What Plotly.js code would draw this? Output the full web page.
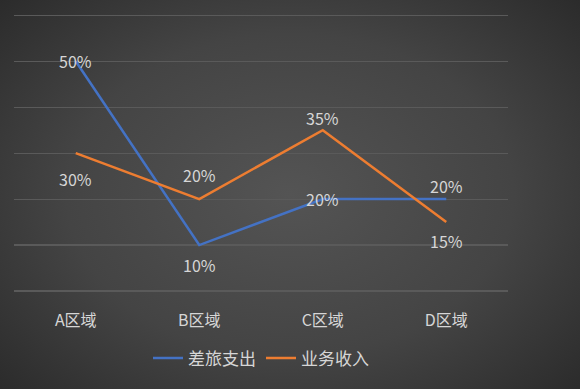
<!DOCTYPE html>
<html><head><meta charset="utf-8">
<script src="https://cdn.plot.ly/plotly-3.0.1.min.js"></script>
<style>
html,body{margin:0;padding:0;}
body{width:580px;height:389px;overflow:hidden;background:radial-gradient(ellipse 70% 75% at 50% 50%, #545454 0%, #444444 55%, #2a2a2a 100%);}
#chart{width:580px;height:389px;}
</style></head>
<body><div id="chart"></div>
<script>
const categories = ['A区域','B区域','C区域','D区域'];
const seriesNames = ['差旅支出','业务收入'];
const travelExpense = [0.50, 0.10, 0.20, 0.20];
const businessIncome = [0.30, 0.20, 0.35, 0.15];

const colors = ['#4472C4','#ED7D31'];
const font = 'Noto Sans CJK SC, Noto Sans, sans-serif';
const labelShift = [[0, -20, 0, 13], [-26, 24, 12, -19]];

const series = [travelExpense, businessIncome];
const traces = series.map((vals, i) => ({
  type: 'scatter', mode: 'lines', x: categories, y: vals, name: seriesNames[i],
  line: {color: colors[i], width: 2.5}, hoverinfo: 'skip'
}));
const annotations = [];
series.forEach((vals, i) => vals.forEach((v, j) => {
  annotations.push({x: categories[j], y: v, xref: 'x', yref: 'y', text: Math.round(v*100) + '%',
    showarrow: false, yshift: labelShift[i][j], font: {family: font, size: 16, color: '#d6d6d6'}});
}));

Plotly.newPlot('chart', traces, {
  width: 580, height: 389,
  paper_bgcolor: 'rgba(0,0,0,0)', plot_bgcolor: 'rgba(0,0,0,0)',
  margin: {l: 14, r: 72, t: 13.2, b: 95},
  font: {family: font, color: '#d6d6d6', size: 16},
  xaxis: {type: 'category', range: [-0.5, 3.5], showgrid: false, zeroline: false, showline: false,
    ticks: 'outside', ticklen: 15, tickcolor: 'rgba(0,0,0,0)', tickfont: {size: 16, color: '#d6d6d6'}},
  yaxis: {range: [0, 0.605], tickvals: [0, 0.1, 0.2, 0.3, 0.4, 0.5, 0.6], showticklabels: false, showgrid: true, gridcolor: '#5a5a5a', gridwidth: 1.2,
    zeroline: true, zerolinecolor: '#5a5a5a', zerolinewidth: 1.2},
  showlegend: true,
  legend: {orientation: 'h', x: 0.5, xanchor: 'center', y: -0.243, yanchor: 'middle',
    font: {size: 17, color: '#d6d6d6'}, itemwidth: 30, bgcolor: 'rgba(0,0,0,0)'},
  annotations: annotations
}, {displayModeBar: false, staticPlot: true});
</script></body></html>
